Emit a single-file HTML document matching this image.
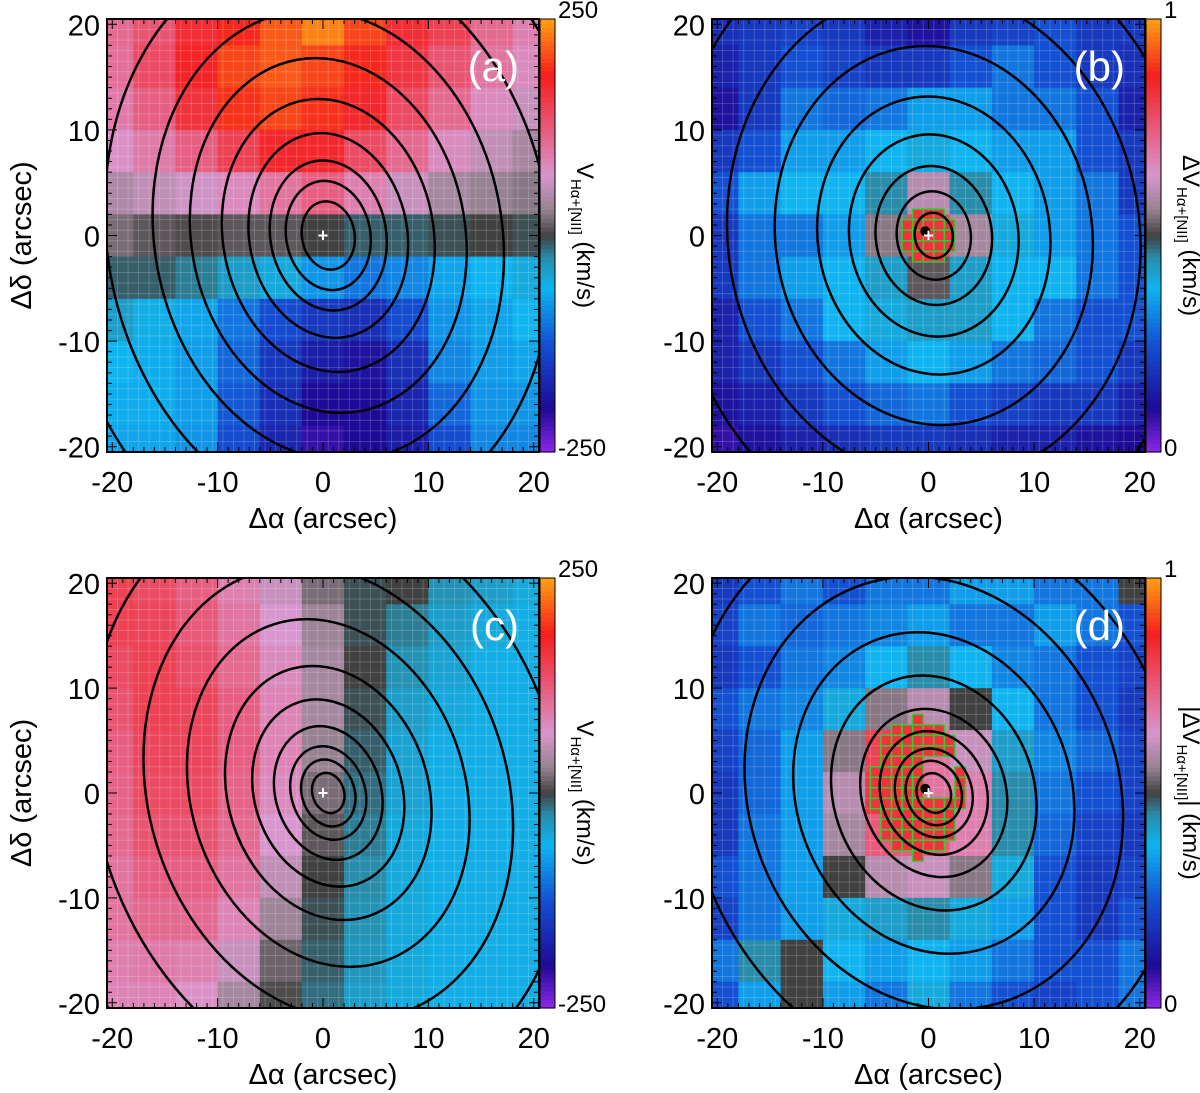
<!DOCTYPE html>
<html><head><meta charset="utf-8"><style>
html,body{margin:0;background:#fff;overflow:hidden;width:1200px;height:1093px}
svg{display:block;font-family:"Liberation Sans",sans-serif}
</style></head><body>
<svg id="fig" width="1200" height="1093" viewBox="0 0 1200 1093" xmlns="http://www.w3.org/2000/svg"></svg>
<script>
// ---- data (coarse 11x11 grids, rows y=+20..-20, cols x=-20..+20 step 4) ----
const gridCoords = [-20,-16,-12,-8,-4,0,4,8,12,16,20];
const tickLabels = [-20,-10,0,10,20];
const valuesA = [
[110,130,170,190,215,235,205,170,150,110,90],
[105,140,180,205,215,205,190,160,130,100,80],
[95,120,165,195,205,195,175,140,110,80,60],
[75,95,120,150,175,175,140,110,80,55,40],
[45,55,65,80,100,120,90,60,40,30,25],
[20,10,5,10,10,0,-10,-10,-5,0,-5],
[-10,-10,-20,-40,-50,-80,-100,-90,-70,-60,-50],
[-40,-55,-70,-100,-130,-150,-160,-130,-80,-70,-60],
[-60,-65,-75,-110,-150,-180,-190,-160,-90,-75,-70],
[-65,-65,-75,-120,-160,-200,-200,-170,-110,-80,-80],
[-70,-70,-80,-130,-170,-210,-200,-180,-130,-90,-90]];
const valuesB = [
[0.18,0.2,0.22,0.2,0.15,0.12,0.2,0.22,0.25,0.2,0.2],
[0.15,0.2,0.25,0.22,0.2,0.2,0.25,0.3,0.25,0.2,0.18],
[0.12,0.2,0.3,0.28,0.3,0.35,0.35,0.3,0.3,0.25,0.15],
[0.2,0.25,0.35,0.35,0.38,0.4,0.38,0.35,0.35,0.25,0.2],
[0.25,0.35,0.38,0.38,0.45,0.6,0.45,0.38,0.35,0.3,0.2],
[0.2,0.3,0.3,0.35,0.55,0.78,0.58,0.4,0.35,0.3,0.25],
[0.2,0.3,0.35,0.38,0.42,0.52,0.42,0.38,0.38,0.3,0.25],
[0.15,0.25,0.3,0.38,0.4,0.42,0.42,0.38,0.3,0.25,0.25],
[0.15,0.2,0.25,0.3,0.35,0.38,0.35,0.3,0.28,0.25,0.2],
[0.12,0.15,0.2,0.25,0.28,0.3,0.25,0.22,0.2,0.2,0.15],
[0.08,0.12,0.15,0.18,0.2,0.2,0.18,0.15,0.15,0.12,0.1]];
const valuesC = [
[150,140,120,90,60,20,-5,0,-30,-40,-50],
[150,145,125,100,70,35,-5,-20,-40,-50,-55],
[140,150,135,110,80,40,0,-30,-45,-55,-55],
[130,150,145,120,85,40,-5,-40,-50,-55,-55],
[120,145,145,120,85,30,-10,-45,-55,-55,-55],
[115,140,140,115,80,20,-15,-45,-55,-55,-55],
[110,130,130,110,70,10,-20,-50,-55,-55,-55],
[100,120,120,100,55,0,-25,-50,-55,-55,-55],
[100,110,110,85,35,-5,-30,-50,-55,-55,-55],
[90,95,90,60,15,-10,-35,-50,-55,-55,-55],
[85,85,75,40,5,-15,-40,-50,-55,-55,-55]];
const valuesD = [
[0.2,0.25,0.3,0.25,0.3,0.3,0.35,0.35,0.3,0.3,0.5],
[0.22,0.3,0.28,0.3,0.32,0.35,0.3,0.3,0.35,0.3,0.25],
[0.2,0.25,0.3,0.32,0.38,0.45,0.38,0.32,0.3,0.25,0.22],
[0.25,0.3,0.32,0.4,0.55,0.6,0.5,0.38,0.3,0.25,0.2],
[0.22,0.28,0.35,0.55,0.8,0.7,0.62,0.42,0.32,0.28,0.22],
[0.2,0.28,0.35,0.6,0.82,0.7,0.68,0.45,0.3,0.25,0.22],
[0.2,0.3,0.35,0.58,0.75,0.75,0.68,0.45,0.28,0.22,0.2],
[0.25,0.3,0.35,0.5,0.6,0.62,0.55,0.4,0.25,0.2,0.22],
[0.22,0.3,0.35,0.4,0.42,0.45,0.4,0.35,0.25,0.2,0.25],
[0.3,0.45,0.5,0.38,0.35,0.38,0.35,0.3,0.25,0.25,0.3],
[0.25,0.35,0.5,0.35,0.3,0.4,0.3,0.25,0.22,0.25,0.3]];
// contour semi-axes (arcsec)
const contourA = [2.5,4,5.5,7.5,10,13,16.5,21,26,31];
const contourC = [1.5,2.5,3.5,5,7,9.5,13,17,22,28];
const contourB = [1.8,3.5,5.5,8,11,15,19.5,25,31];
const contourD = [1.6,2.6,3.6,5,6.8,9.5,13,17.5,23,29];

const stops=[[0,[140,40,230]],[0.1,[30,10,150]],[0.25,[20,80,210]],[0.38,[15,180,240]],[0.45,[40,140,170]],[0.5,[65,65,65]],[0.56,[150,130,145]],[0.64,[215,150,205]],[0.74,[230,95,130]],[0.87,[245,30,30]],[1,[255,160,20]]];
function cmap(t){t=Math.max(0,Math.min(1,t));for(let i=1;i<stops.length;i++){if(t<=stops[i][0]){const a=stops[i-1],b=stops[i];const f=(t-a[0])/(b[0]-a[0]);const c=a[1].map((v,k)=>Math.round(v+(b[1][k]-v)*f));return `rgb(${c})`;}}return 'rgb(255,160,20)';}

const NS='http://www.w3.org/2000/svg';
const svg=document.getElementById('fig');
function mk(tag,attrs,parent){const e=document.createElementNS(NS,tag);for(const k in attrs)e.setAttribute(k,attrs[k]);(parent||svg).appendChild(e);return e;}

function panel(id,L,T,W,H,vals,vmin,vmax,contours,tilt,label,cbTop,cbBot,cbTitle,withGreen,ecc){
  const g=mk('g',{});
  
  
  const px=x=>L+(x+20.5)/41*W, py=y=>T+(20.5-y)/41*H;
  const clip=mk('clipPath',{id:'clip'+id},g);mk('rect',{x:L,y:T,width:W,height:H},clip);
  const hm=mk('g',{'clip-path':`url(#clip${id})`},g);
  
  
  for(let r=0;r<vals.length;r++)for(let c=0;c<vals[r].length;c++){
    const x0=px(gridCoords[c]-2),x1=px(gridCoords[c]+2),y0=py(gridCoords[10-r]+2),y1=py(gridCoords[10-r]-2);
    const cell=mk('rect',{x:x0,y:y0,width:x1-x0+0.5,height:y1-y0+0.5,fill:cmap((vals[r][c]-vmin)/(vmax-vmin))},hm);
    
    
  }
  for(let i=-20;i<=21;i++){mk('line',{x1:px(i-0.5),x2:px(i-0.5),y1:T,y2:T+H,stroke:'#fff','stroke-opacity':0.18,'stroke-width':1},hm);mk('line',{y1:py(i-0.5),y2:py(i-0.5),x1:L,x2:L+W,stroke:'#fff','stroke-opacity':0.18,'stroke-width':1},hm);}
  if(withGreen){
    const gg=mk('g',{},hm);
    
    
    for(const [x,y] of withGreen){mk('rect',{x:px(x-0.5),y:py(y+0.5),width:W/41,height:H/41,fill:'rgb(240,50,60)',stroke:'#3c3','stroke-width':1.5},gg);}
  }
  contours.forEach((rr,i)=>{
    const el=mk('ellipse',{cx:px(0.5),cy:py(0),rx:rr/41*W,ry:rr*ecc/41*H,fill:'none',stroke:'#000','stroke-width':2.5,transform:`rotate(${tilt} ${px(0.5)} ${py(0)})`},hm);
    
    
  });
  if(id==='b'||id==='d'){const d=mk('circle',{cx:px(-0.3),cy:py(0.4),r:5,fill:'#000'},hm);}
  const plus=mk('text',{x:px(0),y:py(0)+6,'text-anchor':'middle','font-size':18,fill:'#fff','font-weight':'bold'},hm);plus.textContent='+';
  
  
  mk('rect',{x:L,y:T,width:W,height:H,fill:'none',stroke:'#000','stroke-width':2},g);
  for(let i=-20;i<=20;i++){const len=i%10===0?10:5;
    mk('line',{x1:px(i),x2:px(i),y1:T+H,y2:T+H-len,stroke:'#000','stroke-width':1},g);
    mk('line',{x1:px(i),x2:px(i),y1:T,y2:T+len,stroke:'#000','stroke-width':1},g);
    mk('line',{y1:py(i),y2:py(i),x1:L,x2:L+len,stroke:'#000','stroke-width':1},g);
    mk('line',{y1:py(i),y2:py(i),x1:L+W,x2:L+W-len,stroke:'#000','stroke-width':1},g);}
  tickLabels.forEach(v=>{
    const tx=mk('text',{x:px(v),y:T+H+40,'text-anchor':'middle','font-size':29},g);tx.textContent=v;
    
    
    const ty=mk('text',{x:L-7,y:py(v)+11,'text-anchor':'end','font-size':29},g);ty.textContent=v;
    
    
  });
  const xt=mk('text',{x:L+W/2,y:T+H+76,'text-anchor':'middle','font-size':29},g);xt.textContent='Δα (arcsec)';
  
  
  if(id==='a'||id==='c'){const yt=mk('text',{x:0,y:0,'text-anchor':'middle','font-size':29,transform:`translate(${L-76},${T+H/2}) rotate(-90)`},g);yt.textContent='Δδ (arcsec)';
    
    }
  const pl=mk('text',{x:L+W-20,y:T+62,'text-anchor':'end','font-size':42,fill:'#fff'},g);pl.textContent=label;
  
  
  const cx=L+W+1,cw=15;const cb=mk('g',{},g);
  
  
  for(let i=0;i<100;i++)mk('rect',{x:cx,y:T+H-(i+1)*H/100,width:cw,height:H/100+0.6,fill:cmap((i+0.5)/100)},cb);
  mk('rect',{x:cx,y:T,width:cw,height:H,fill:'none',stroke:'#000','stroke-width':1},cb);
  const t1=mk('text',{x:cx+cw+3,y:T-1,'font-size':24},cb);t1.textContent=cbTop;
  const t2=mk('text',{x:cx+cw+3,y:T+H+4,'font-size':24},cb);t2.textContent=cbBot;
  const ct=mk('text',{x:0,y:0,'text-anchor':'middle','font-size':24,transform:`translate(${cx+cw+22},${T+H/2}) rotate(90)`},cb);
  
  
  ct.innerHTML=cbTitle;
}
const greenB=[];for(let x=-2;x<=2;x++)for(let y=-2;y<=2;y++)if(Math.abs(x)+Math.abs(y)<=3)greenB.push([x,y]);
const greenD=[];for(let x=-5;x<=3;x++)for(let y=-6;y<=7;y++){const u=(x+1)/4.2,v=(y-0.5)/6.5;if(u*u+v*v<=1&&!(x>=0&&y>=0&&y<=3&&x<=2))greenD.push([x,y]);}
panel('a',107,19,432,433,valuesA,-250,250,contourA,-10,'(a)','250','-250','V<tspan font-size="15" dy="6">Hα+[NII]</tspan><tspan dy="-6"> (km/s)</tspan>',null,1.3);
panel('b',712,19,433,433,valuesB,0,1,contourB,-8,'(b)','1','0','ΔV<tspan font-size="15" dy="6">Hα+[NII]</tspan><tspan dy="-6"> (km/s)</tspan>',greenB,1.2);
panel('c',107,578,432,430,valuesC,-250,250,contourC,-18,'(c)','250','-250','V<tspan font-size="15" dy="6">Hα+[NII]</tspan><tspan dy="-6"> (km/s)</tspan>',null,1.3);
panel('d',712,578,433,430,valuesD,0,1,contourD,-20,'(d)','1','0','|ΔV<tspan font-size="15" dy="6">Hα+[NII]</tspan><tspan dy="-6">| (km/s)</tspan>',greenD,1.2);
</script>
</body></html>
